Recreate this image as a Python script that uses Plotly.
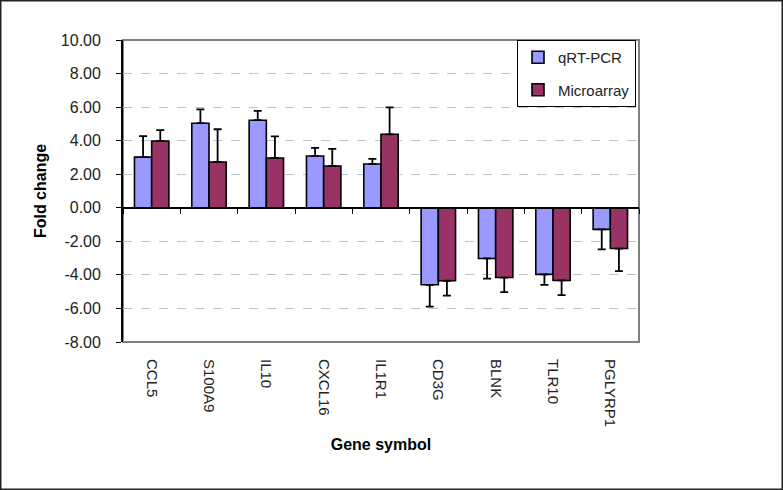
import plotly.graph_objects as go

genes = ["CCL5", "S100A9", "IL10", "CXCL16", "IL1R1", "CD3G", "BLNK", "TLR10", "PGLYRP1"]
qrt_pcr = [3.02, 5.04, 5.22, 3.09, 2.61, -4.59, -3.02, -3.97, -1.29]
qrt_err = [1.25, 0.83, 0.55, 0.48, 0.30, 1.30, 1.20, 0.62, 1.19]
microarray = [3.98, 2.73, 2.97, 2.49, 4.38, -4.35, -4.16, -4.33, -2.43]
micro_err = [0.65, 1.95, 1.29, 1.02, 1.61, 0.88, 0.87, 0.88, 1.34]
y_ticks = [10, 8, 6, 4, 2, 0, -2, -4, -6, -8]
y_tick_text = [f"{v:.2f}" for v in y_ticks]

W, H = 783, 490
L, R, T, B = 123, 144, 40, 148
pw, ph = W - L - R, H - T - B

FONT = "Liberation Sans, Arial, sans-serif"


def up_err(vals, errs):
    return [e if v >= 0 else 0 for v, e in zip(vals, errs)]


def down_err(vals, errs):
    return [e if v < 0 else 0 for v, e in zip(vals, errs)]


fig = go.Figure()
for name, vals, errs, color, grp in [
    ("qRT-PCR", qrt_pcr, qrt_err, "#9999FF", "a"),
    ("Microarray", microarray, micro_err, "#993366", "b"),
]:
    fig.add_trace(go.Bar(
        x=genes, y=vals, name=name, legendgroup=grp,
        marker=dict(color=color, line=dict(color="black", width=1.6)),
        error_y=dict(type="data", symmetric=False,
                     array=up_err(vals, errs), arrayminus=down_err(vals, errs),
                     color="black", thickness=1.8, width=4),
    ))

# invisible helper trace for the zero-line category axis
fig.add_trace(go.Scatter(x=genes, y=[0] * len(genes), xaxis="x2", mode="markers",
                         marker=dict(opacity=0), showlegend=False, hoverinfo="skip"))

fig.update_layout(
    width=W, height=H,
    margin=dict(l=L, r=R, t=T, b=B),
    paper_bgcolor="white", plot_bgcolor="white",
    font=dict(family=FONT, color="black", size=15),
    barmode="group", bargap=0.40, bargroupgap=0.0,
    showlegend=True,
    legend=dict(x=1 - 3 / pw, y=1, xanchor="right", yanchor="top",
                bordercolor="black", borderwidth=1, bgcolor="white",
                font=dict(size=15, family=FONT, color="#222222"), traceorder="grouped",
                tracegroupgap=10, itemwidth=30),
    xaxis=dict(type="category", range=[-0.5, 8.5], showgrid=False, zeroline=False,
               showline=False, ticks="", ticklabelstandoff=16,
               tickangle=90, tickfont=dict(size=15, family=FONT, color="#222222"),
               title=dict(text="<b>Gene symbol</b>", font=dict(size=16, family=FONT), standoff=12)),
    xaxis2=dict(type="category", overlaying="x", anchor="free", position=8 / 18,
                range=[-0.5, 8.5], matches="x", showgrid=False, zeroline=False,
                showline=True, linecolor="black", linewidth=1.8,
                ticks="outside", tickson="boundaries", ticklen=5, tickcolor="black",
                showticklabels=False, side="bottom"),
    yaxis=dict(range=[-8, 10], tickvals=y_ticks, ticktext=y_tick_text,
               showgrid=True, gridcolor="#B4C4D6", griddash="dash", gridwidth=1,
               zeroline=False, showline=True, linecolor="black", linewidth=1.8,
               ticks="outside", ticklen=5, tickcolor="black", ticklabelstandoff=12,
               tickfont=dict(size=16, family=FONT, color="#222222"),
               title=dict(text="<b>Fold change</b>", font=dict(size=16, family=FONT), standoff=10)),
    shapes=[
        dict(type="rect", xref="paper", yref="paper", x0=0, x1=1, y0=0, y1=1,
             line=dict(color="#808080", width=2), layer="below"),
        dict(type="rect", xref="paper", yref="paper",
             x0=-(L - 0.75) / pw, x1=(W - L - 0.75) / pw,
             y0=-(B - 0.75) / ph, y1=(H - B - 0.75) / ph,
             line=dict(color="#222222", width=1.5), layer="below"),
    ],
)

fig.write_html(
    "out.html",
    config={"displayModeBar": False},
    post_script="document.body.style.margin='0';document.body.style.overflow='hidden';",
)
